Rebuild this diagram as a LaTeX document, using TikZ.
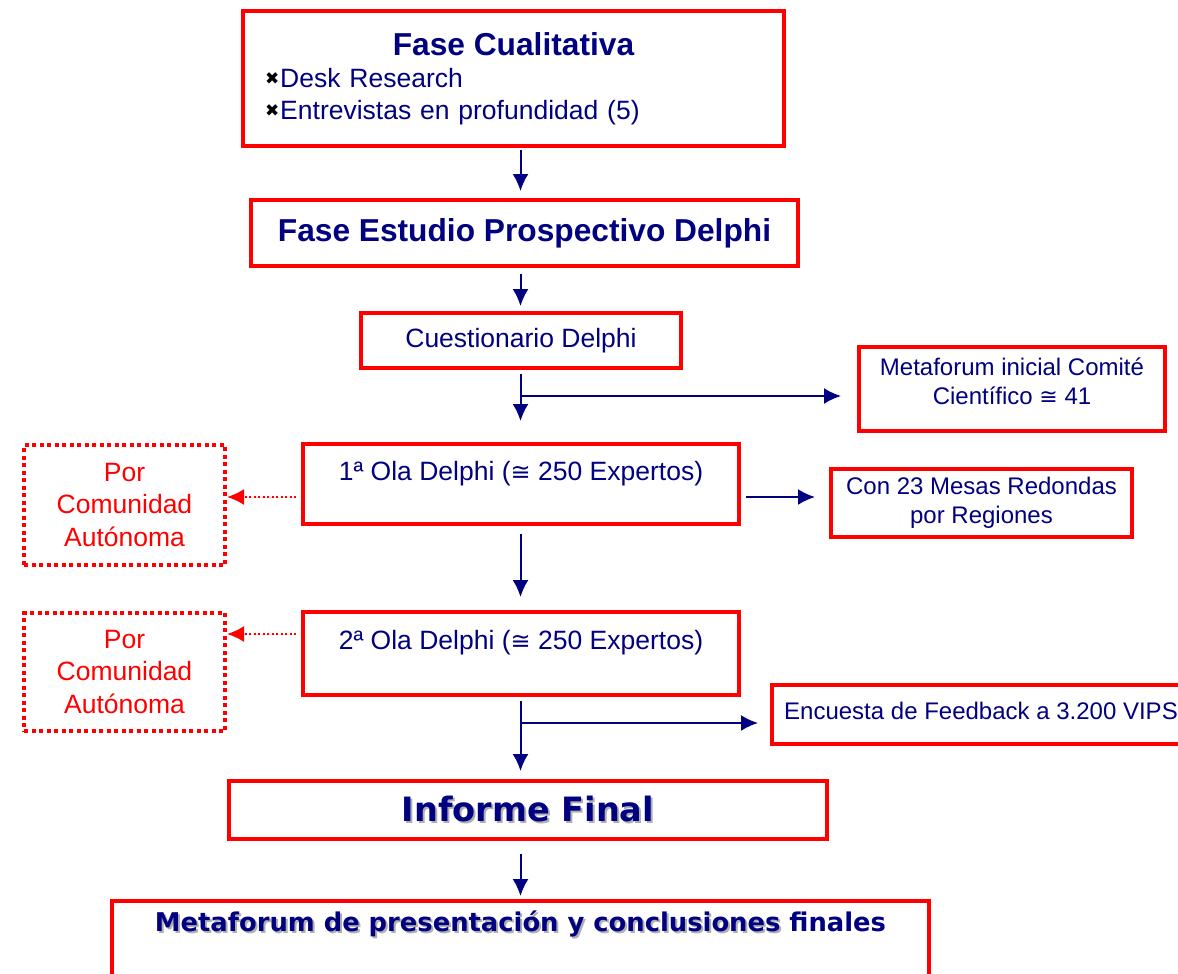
\documentclass[tikz,border=0pt]{standalone}
\usepackage{fontspec}
\setmainfont{Liberation Sans}
\newfontfamily\tahoma{DejaVu Sans}
\newfontfamily\dejavu{DejaVu Sans}
\usepackage{tikz}
\usetikzlibrary{arrows.meta, positioning, calc}
\definecolor{navy}{RGB}{0,0,128}
\definecolor{pured}{RGB}{255,0,0}
\definecolor{shade}{RGB}{175,175,175}
\newcommand{\cng}[1]{{\dejavu\fontsize{#1}{#1}\selectfont ≅}}
\newcommand{\xmark}{\raisebox{3pt}{\dejavu\fontsize{17}{17}\selectfont\color{black}✖}\hspace{1pt}}

\begin{document}
\begin{tikzpicture}[x=1pt, y=-1pt, >={Latex[length=17pt,width=16pt]},
	box/.style={draw=pured, line width=4pt, inner sep=2pt, text=navy},
	dotbox/.style={draw=pured, line width=4pt, dash pattern=on 4pt off 3.5pt, text=pured, align=center, font=\fontsize{26.5}{32.5}\selectfont},
	flow/.style={->, draw=navy, line width=2pt},
	dotflow/.style={->, draw=pured, fill=pured, line width=2pt, dash pattern=on 2pt off 2.5pt},
	big/.style={font=\fontsize{26.5}{32}\selectfont},
	small/.style={font=\fontsize{24}{29}\selectfont}]
	
	\useasboundingbox (0,0) rectangle (1178,974);
	\coordinate (axis) at (520.5,0);
	
	% main column
	\node[box, big, minimum width=541pt, minimum height=135pt, text width=497pt, inner xsep=20pt, align=left] (cual) at (513.5,78.5) {\makebox[497pt]{\bfseries\fontsize{31.7}{34}\selectfont Fase Cualitativa}\\ \xmark Desk Research\\ \xmark Entrevistas en profundidad (5)};
	\node[box, font=\bfseries\fontsize{31.7}{34}\selectfont, minimum width=547pt, minimum height=66pt] (delphi) at (524.5,233) {Fase Estudio Prospectivo Delphi};
	\node[box, big, minimum width=320pt, minimum height=55pt] (cuest) at (521,340.5) {Cuestionario Delphi};
	\node[box, big, minimum width=436pt, minimum height=80pt, text height=20pt, text depth=28pt] (ola1) at (521,484) {1ª Ola Delphi (\cng{24} 250 Expertos)};
	\node[box, big, minimum width=436pt, minimum height=83pt, text height=20pt, text depth=28pt] (ola2) at (521,653.5) {2ª Ola Delphi (\cng{24} 250 Expertos)};
	\node[box, font=\tahoma\bfseries\fontsize{33.5}{36}\selectfont, minimum width=598pt, minimum height=58pt] (inf) at (528,810) {\rlap{\hspace{2pt}\raisebox{-2pt}{\color{shade}Informe Final}}Informe Final};
	\node[box, font=\tahoma\bfseries\fontsize{25.8}{30}\selectfont, minimum width=817pt, minimum height=87pt, text height=19pt, text depth=45pt] (fin) at (520.5,944.5) {\rlap{\hspace{2pt}\raisebox{-2pt}{\color{shade}Metaforum de presentación y conclusiones}}Metaforum de presentación y conclusiones finales};
	
	% side boxes
	\node[box, small, align=center, minimum width=306pt, minimum height=84pt] (meta) at (1012,389) {Metaforum inicial Comité\\ Científico \cng{22} 41\\[-14pt]\mbox{}};
	\node[box, small, align=center, minimum width=301pt, minimum height=68pt] (mesas) at (981.5,503) {Con 23 Mesas Redondas\\ por Regiones};
	\node[box, small, minimum width=418pt, minimum height=59pt, text height=18pt, text depth=9pt] (encu) at (981,714.5) {Encuesta de Feedback a 3.200 VIPS};
	\node[dotbox, minimum width=201pt, minimum height=120pt] (auto1) at (124.5,505) {Por\\ Comunidad\\ Autónoma};
	\node[dotbox, minimum width=201pt, minimum height=118pt] (auto2) at (124.5,672) {Por\\ Comunidad\\ Autónoma};
	
	\coordinate (br1) at ($(cuest.south -| axis)+(0,26)$);
	\coordinate (br2) at ($(ola2.south -| axis)+(0,26)$);
	
	\draw[flow, shorten <=2pt, shorten >=7pt] (cual.south -| axis) -- (delphi.north -| axis);
	\draw[flow, shorten <=6pt, shorten >=5pt] (delphi.south -| axis) -- (cuest.north -| axis);
	\draw[flow, shorten <=4pt, shorten >=21pt] (cuest.south -| axis) -- (ola1.north -| axis);
	\draw[flow, shorten >=16pt] (br1) -- (br1 -| meta.west);
	\draw[flow, shorten <=8pt, shorten >=13pt] (ola1.south -| axis) -- (ola2.north -| axis);
	\draw[flow, shorten <=5pt, shorten >=14pt] ([yshift=-13pt]ola1.east) -- ([yshift=-13pt]ola1.east -| mesas.west);
	\draw[flow, shorten <=4pt, shorten >=8pt] (ola2.south -| axis) -- (inf.north -| axis);
	\draw[flow, shorten >=12pt] (br2) -- (br2 -| encu.west);
	\draw[flow, shorten <=13pt, shorten >=3pt] (inf.south -| axis) -- (fin.north -| axis);
	\draw[dotflow, shorten <=5pt] ([yshift=-13pt]ola1.west) -- ([yshift=-13pt]ola1.west -| auto1.east);
	\draw[dotflow, shorten <=5pt] ([yshift=19.5pt]ola2.west) -- ([yshift=19.5pt]ola2.west -| auto2.east);
\end{tikzpicture}
\end{document}
